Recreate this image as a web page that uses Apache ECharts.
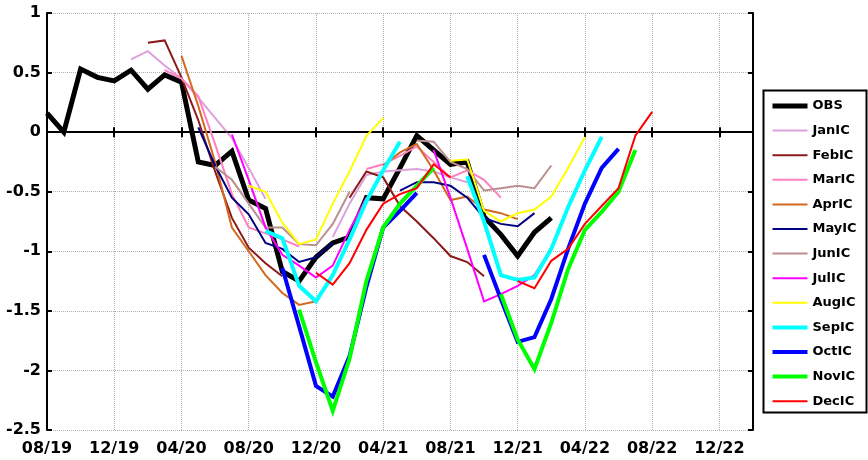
<!DOCTYPE html>
<html>
<head>
<meta charset="utf-8">
<script src="https://cdn.jsdelivr.net/npm/echarts@6/dist/echarts.min.js"></script>
<style>
  html, body { margin: 0; padding: 0; background: #fff; }
  #chart { width: 868px; height: 460px; }
</style>
</head>
<body>
<div id="chart"></div>
<script>
// Monthly time axis, Aug 2019 .. Feb 2023
const months = [
  '08/19', '09/19', '10/19', '11/19', '12/19',
  '01/20', '02/20', '03/20', '04/20', '05/20', '06/20', '07/20', '08/20', '09/20', '10/20', '11/20', '12/20',
  '01/21', '02/21', '03/21', '04/21', '05/21', '06/21', '07/21', '08/21', '09/21', '10/21', '11/21', '12/21',
  '01/22', '02/22', '03/22', '04/22', '05/22', '06/22', '07/22', '08/22', '09/22', '10/22', '11/22', '12/22',
  '01/23', '02/23'
];
const yTicks = [-2.5, -2, -1.5, -1, -0.5, 0, 0.5, 1];

// Observed index, starting 08/19
const obs = [0.16, 0.0, 0.53, 0.46, 0.43, 0.52, 0.36, 0.48, 0.42, -0.25, -0.28, -0.16,
  -0.57, -0.64, -1.17, -1.25, -1.05, -0.93, -0.88, -0.55, -0.56, -0.3, -0.03, -0.15,
  -0.27, -0.25, -0.71, -0.86, -1.04, -0.84, -0.72];

// Forecasts (lead 0..8) from each initial month, 2020 and 2021 start dates
const janIC2020 = [0.61, 0.68, 0.56, 0.45, 0.29, 0.12, -0.05, -0.3, -0.56];
const janIC2021 = [-0.88, -0.6, -0.36, -0.33, -0.32, -0.31, -0.33, -0.38, -0.42];
const febIC2020 = [0.75, 0.77, 0.46, 0.1, -0.33, -0.72, -0.97, -1.1, -1.21];
const febIC2021 = [-0.55, -0.33, -0.38, -0.62, -0.75, -0.89, -1.04, -1.09, -1.21];
const marIC2020 = [0.52, 0.45, 0.3, -0.1, -0.52, -0.8, -0.85, -0.9, -0.96];
const marIC2021 = [-0.31, -0.27, -0.2, -0.12, -0.25, -0.38, -0.32, -0.4, -0.55];
const aprIC2020 = [0.64, 0.22, -0.25, -0.8, -1.0, -1.2, -1.35, -1.45, -1.42];
const aprIC2021 = [-0.28, -0.17, -0.1, -0.32, -0.57, -0.54, -0.65, -0.68, -0.73];
const mayIC2020 = [0.04, -0.28, -0.55, -0.69, -0.93, -0.98, -1.09, -1.05, -0.93];
const mayIC2021 = [-0.49, -0.42, -0.42, -0.45, -0.55, -0.72, -0.77, -0.79, -0.68];
const junIC2020 = [-0.29, -0.4, -0.6, -0.8, -0.8, -0.94, -0.95, -0.77, -0.5];
const junIC2021 = [-0.07, -0.08, -0.25, -0.31, -0.49, -0.47, -0.45, -0.47, -0.28];
const julIC2020 = [-0.02, -0.4, -0.8, -1.03, -1.12, -1.22, -1.12, -0.82, -0.55];
const julIC2021 = [-0.15, -0.55, -0.98, -1.42, -1.36, -1.29, -1.2, -0.98, -0.62];
const augIC2020 = [-0.45, -0.5, -0.76, -0.94, -0.9, -0.6, -0.33, -0.03, 0.12];
const augIC2021 = [-0.24, -0.23, -0.66, -0.75, -0.68, -0.65, -0.54, -0.3, -0.04];
const sepIC2020 = [-0.83, -0.89, -1.29, -1.42, -1.2, -0.9, -0.58, -0.32, -0.08];
const sepIC2021 = [-0.37, -0.75, -1.2, -1.24, -1.22, -0.98, -0.63, -0.32, -0.04];
const octIC2020 = [-1.14, -1.63, -2.13, -2.22, -1.88, -1.3, -0.8, -0.66, -0.51];
const octIC2021 = [-1.03, -1.4, -1.76, -1.72, -1.4, -0.98, -0.6, -0.3, -0.14];
const novIC2020 = [-1.49, -1.93, -2.34, -1.9, -1.25, -0.8, -0.6, -0.45, -0.3];
const novIC2021 = [-1.36, -1.74, -1.99, -1.6, -1.15, -0.82, -0.67, -0.5, -0.15];
const decIC2020 = [-1.18, -1.28, -1.1, -0.82, -0.6, -0.52, -0.47, -0.27, -0.38];
const decIC2021 = [-1.25, -1.31, -1.08, -0.98, -0.77, -0.62, -0.47, -0.03, 0.17];

// Put each run onto the monthly axis, leaving gaps elsewhere
function place(runs) {
  const out = months.map(() => null);
  runs.forEach(([start, vals]) => {
    const i = months.indexOf(start);
    vals.forEach((v, k) => { out[i + k] = v; });
  });
  return out;
}

const lines = [
  { name: 'OBS',   color: '#000000', width: 5, data: place([['08/19', obs]]) },
  { name: 'JanIC', color: '#DDA0DD', width: 2, data: place([['01/20', janIC2020], ['01/21', janIC2021]]) },
  { name: 'FebIC', color: '#8B1A1A', width: 2, data: place([['02/20', febIC2020], ['02/21', febIC2021]]) },
  { name: 'MarIC', color: '#FF7FBF', width: 2, data: place([['03/20', marIC2020], ['03/21', marIC2021]]) },
  { name: 'AprIC', color: '#D2691E', width: 2, data: place([['04/20', aprIC2020], ['04/21', aprIC2021]]) },
  { name: 'MayIC', color: '#000080', width: 2, data: place([['05/20', mayIC2020], ['05/21', mayIC2021]]) },
  { name: 'JunIC', color: '#BC8F8F', width: 2, data: place([['06/20', junIC2020], ['06/21', junIC2021]]) },
  { name: 'JulIC', color: '#FF00FF', width: 2, data: place([['07/20', julIC2020], ['07/21', julIC2021]]) },
  { name: 'AugIC', color: '#FFFF00', width: 2, data: place([['08/20', augIC2020], ['08/21', augIC2021]]) },
  { name: 'SepIC', color: '#00FFFF', width: 4, data: place([['09/20', sepIC2020], ['09/21', sepIC2021]]) },
  { name: 'OctIC', color: '#0000FF', width: 4, data: place([['10/20', octIC2020], ['10/21', octIC2021]]) },
  { name: 'NovIC', color: '#00FF00', width: 4, data: place([['11/20', novIC2020], ['11/21', novIC2021]]) },
  { name: 'DecIC', color: '#FF0000', width: 2, data: place([['12/20', decIC2020], ['12/21', decIC2021]]) }
];

const tickFont = { fontFamily: 'DejaVu Sans', fontWeight: 'bold', fontSize: 16, color: '#000' };
const axisBlack = { lineStyle: { color: '#000', width: 2 } };
const gridDots = { lineStyle: { color: '#b0b0b0', type: 'dotted', width: 1 } };
const tickIn = { show: true, inside: true, length: 5, lineStyle: { color: '#000', width: 2 } };

const chart = echarts.init(document.getElementById('chart'), null, { renderer: 'canvas' });

chart.setOption({
  animation: false,
  backgroundColor: '#fff',
  grid: { left: 47, right: 115, top: 13, bottom: 30, containLabel: false },
  xAxis: [
    {
      type: 'category', data: months, boundaryGap: false,
      axisLine: axisBlack,
      axisTick: Object.assign({ interval: 3 }, tickIn),
      axisLabel: Object.assign({ interval: 3, margin: 11 }, tickFont),
      splitLine: Object.assign({ show: true, interval: 3 }, gridDots)
    },
    {
      type: 'category', data: months, boundaryGap: false, position: 'top',
      axisLine: axisBlack,
      axisTick: Object.assign({ interval: 3 }, tickIn),
      axisLabel: { show: false },
      splitLine: { show: false }
    }
  ],
  yAxis: [
    {
      type: 'value', min: yTicks[0], max: yTicks[yTicks.length - 1], interval: 0.5,
      axisLine: Object.assign({ show: true }, axisBlack),
      axisTick: tickIn,
      axisLabel: Object.assign({ margin: 6 }, tickFont),
      splitLine: Object.assign({ show: true }, gridDots)
    },
    {
      type: 'value', position: 'right', min: yTicks[0], max: yTicks[yTicks.length - 1], interval: 0.5,
      axisLine: Object.assign({ show: true }, axisBlack),
      axisTick: tickIn,
      axisLabel: { show: false },
      splitLine: { show: false }
    }
  ],
  legend: {
    orient: 'vertical',
    left: 770, top: 99.5, padding: 0,
    itemWidth: 35, itemHeight: 13, itemGap: 11.6,
    itemStyle: { opacity: 0 },
    textStyle: { fontFamily: 'DejaVu Sans', fontWeight: 'bold', fontSize: 13, color: '#000', lineHeight: 13 },
    data: lines.map(l => ({ name: l.name, lineStyle: { width: l.width, color: l.color } })),
    selectedMode: false
  },
  graphic: [{
    type: 'rect', z: 0, silent: true,
    shape: { x: 763.5, y: 90.5, width: 103, height: 322 },
    style: { fill: 'none', stroke: '#000', lineWidth: 2 }
  }],
  series: lines.map((l, idx) => {
    const s = {
      name: l.name, type: 'line', data: l.data,
      symbol: 'none', showSymbol: false, connectNulls: false,
      lineStyle: { color: l.color, width: l.width, join: 'miter' },
      itemStyle: { color: l.color },
      emphasis: { disabled: true },
      z: 3 + idx
    };
    if (idx === 0) {
      s.markLine = {
        silent: true, symbol: 'none', label: { show: false },
        lineStyle: { color: '#000', type: 'solid', width: 1.5 },
        data: [{ yAxis: 0 }]
      };
    }
    return s;
  })
});
</script>
</body>
</html>
